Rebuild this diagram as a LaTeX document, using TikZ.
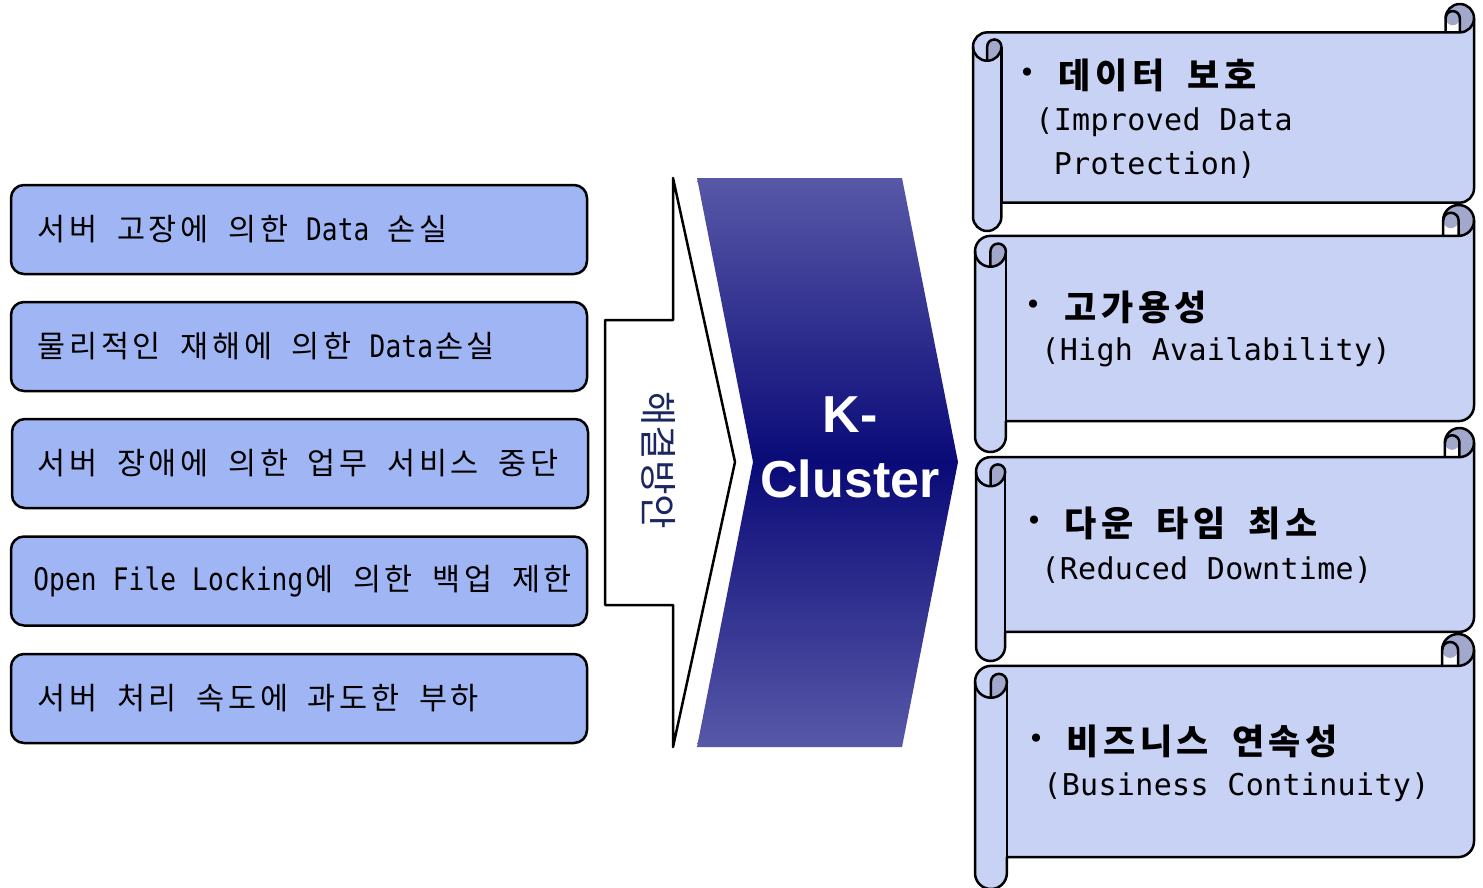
\documentclass[tikz,border=0pt]{standalone}
\usepackage{fontspec}
\setmainfont{Liberation Sans}
\newfontfamily\latA{DejaVu Sans Mono}[FakeStretch=0.844]
\newfontfamily\latB{DejaVu Sans Mono}
\newfontfamily\krC{Noto Sans CJK KR}
\newfontfamily\dvs{DejaVu Sans}
\newcommand\kfA{\krC\fontsize{30.5}{33}\selectfont}
\newcommand\lfA{\latA\fontsize{31}{34}\selectfont}
\newcommand\kfB{\krC\bfseries\fontsize{35}{38}\selectfont}
\newcommand\lfB{\latB\fontsize{30}{34}\selectfont}
\ExplSyntaxOn
\dim_new:N \l__gr_w_dim
\cs_new_protected:Npn \gr_grid:nnnn #1#2#3#4
  {
    \dim_set:Nn \l__gr_w_dim {#1}
    \str_map_inline:nn {#4}
      {
        \str_if_eq:nnTF {##1} {~}
          { \hbox_to_wd:nn { 0.5\l__gr_w_dim } { } }
          {
            \int_compare:nNnTF { `##1 } < { 256 }
              { \hbox_to_wd:nn { 0.5\l__gr_w_dim } { \hfil #3 ##1 \hfil } }
              { \hbox_to_wd:nn { \l__gr_w_dim } { \hfil #2 ##1 \hfil } }
          }
      }
  }
\NewDocumentCommand \grid { m m m m } { \gr_grid:nnnn {#1} {#2} {#3} {#4} }
\ExplSyntaxOff
\definecolor{boxfill}{RGB}{160,181,243}
\definecolor{scrollfill}{RGB}{200,210,245}
\definecolor{scrolldark}{RGB}{162,168,204}
\definecolor{chevlight}{RGB}{88,88,168}
\definecolor{chevdark}{RGB}{10,10,120}
\definecolor{navytext}{RGB}{28,38,96}
\newcommand\hscroll[4]{%
 \pgfmathsetmacro\scC{0.125*(#4-#2)}%
 \pgfmathsetmacro\scA{\scC/2}%
 \pgfmathsetmacro\scB{\scC/4}%
 \fill[scrollfill] (#3,{#2+\scA}) arc[start angle=0,delta angle=90,radius=\scA]
   -- ({#1+\scA},{#2+\scC}) arc[start angle=270,delta angle=-90,radius=\scA]
   -- (#1,{#4-\scA}) arc[start angle=180,delta angle=-180,radius=\scA]
   -- ({#1+\scC},{#4-\scC}) -- ({#3-\scA},{#4-\scC}) arc[start angle=90,delta angle=-90,radius=\scA] -- cycle;
 \fill[scrolldark] ({#1+\scA},{#2+2*\scC}) arc[start angle=90,delta angle=-90,radius=\scA]
   arc[start angle=0,delta angle=-180,radius=\scB] -- cycle;
 \fill[scrolldark] ({#3-\scA},{#2+\scC}) arc[start angle=90,delta angle=-270,radius=\scA]
   arc[start angle=180,delta angle=-180,radius=\scB] -- cycle;
 \draw[scrollline] (#1,{#2+1.5*\scC}) arc[start angle=180,delta angle=90,radius=\scA]
   -- ({#3-\scC},{#2+\scC}) -- ({#3-\scC},{#2+\scA}) arc[start angle=180,delta angle=180,radius=\scA]
   -- (#3,{#4-1.5*\scC}) arc[start angle=0,delta angle=90,radius=\scA]
   -- ({#1+\scC},{#4-\scC}) -- ({#1+\scC},{#4-\scA}) arc[start angle=0,delta angle=180,radius=\scA] -- cycle;
 \draw[scrollline] ({#3-\scC},{#2+\scC}) -- ({#3-\scA},{#2+\scC}) arc[start angle=90,delta angle=-90,radius=\scA];
 \draw[scrollline] ({#3-\scA},{#2+\scC}) -- ({#3-\scA},{#2+\scA}) arc[start angle=0,delta angle=-180,radius=\scB];
 \draw[scrollline] ({#1+\scA},{#2+2*\scC}) -- ({#1+\scA},{#2+1.5*\scC}) arc[start angle=180,delta angle=180,radius=\scB]
   arc[start angle=0,delta angle=180,radius=\scA];
 \draw[scrollline] ({#1+\scC},{#2+1.5*\scC}) -- ({#1+\scC},{#4-\scC});
}
\begin{document}
\begin{tikzpicture}[x=1pt,y=-1pt,line join=round,
  probbox/.style={draw=black,line width=2.5pt,fill=boxfill,rounded corners=13pt,minimum width=576pt,minimum height=89pt,inner sep=0pt},
  probtext/.style={inner sep=0pt,anchor=west},
  scrollline/.style={draw=black,line width=2.5pt},
  stext/.style={inner sep=0pt,anchor=west},
  sbul/.style={font=\fontsize{28}{32}\selectfont\dvs,inner sep=0pt}]
\useasboundingbox (0,0) rectangle (1483,888);
% problem boxes
\node[probbox] (p1) at (299,229.5) {};
\node[probbox] (p2) at (299,346.5) {};
\node[probbox] (p3) at (300,463.5) {};
\node[probbox] (p4) at (299,581) {};
\node[probbox] (p5) at (299,698.5) {};
\node[probtext] (t1) at (35.5,229.5) {\grid{31.8pt}{\kfA}{\lfA}{서버 고장에 의한 Data 손실}};
\node[probtext] (t2) at (35.5,346.5) {\grid{31.8pt}{\kfA}{\lfA}{물리적인 재해에 의한 Data손실}};
\node[probtext] (t3) at (35.5,463.5) {\grid{31.8pt}{\kfA}{\lfA}{서버 장애에 의한 업무 서비스 중단}};
\node[probtext] (t4) at (33,581) {\grid{31.8pt}{\kfA}{\lfA}{Open File Locking에 의한 백업 제한}};
\node[probtext] (t5) at (35.5,698.5) {\grid{31.8pt}{\kfA}{\lfA}{서버 처리 속도에 과도한 부하}};
% white arrow
\draw[line width=2.5pt,fill=white] (605,320) -- (673,320) -- (673,178) -- (735,462) -- (673,747) -- (673,605) -- (605,605) -- cycle;
\node[rotate=-90,font=\fontsize{37.5}{40}\selectfont\krC,text=navytext,inner sep=0pt] (sol) at (659,460) {해결방안};
% chevron
\shade[top color=chevlight,bottom color=chevlight,middle color=chevdark] (697,178) -- (902,178) -- (958,462) -- (902,747) -- (697,747) -- (753,462) -- cycle;
\node[font=\fontsize{52}{65}\selectfont\bfseries,text=white,align=center,inner sep=0pt] (kc) at (850,447.5) {K-\\Cluster};
% scrolls
\hscroll{973}{4}{1474}{231}
\hscroll{975}{205}{1474}{452}
\hscroll{976}{428}{1474}{661}
\hscroll{975}{634}{1474}{889}
\node[sbul] (s1b) at (1027,75) {•};
\node[stext] (s1k) at (1056,75) {\grid{36.8pt}{\kfB}{\lfB}{데이터 보호}};
\node[stext] (s1e) at (1035,122) {\grid{36.8pt}{\kfB}{\lfB}{(Improved Data}};
\node[stext] (s1f) at (1035,165) {\grid{36.8pt}{\kfB}{\lfB}{ Protection)}};
\node[sbul] (s2b) at (1033,307) {•};
\node[stext] (s2k) at (1062,307) {\grid{36.8pt}{\kfB}{\lfB}{고가용성}};
\node[stext] (s2e) at (1041,352) {\grid{36.8pt}{\kfB}{\lfB}{(High Availability)}};
\node[sbul] (s3b) at (1034,523) {•};
\node[stext] (s3k) at (1062,523) {\grid{36.8pt}{\kfB}{\lfB}{다운 타임 최소}};
\node[stext] (s3e) at (1041,570) {\grid{36.8pt}{\kfB}{\lfB}{(Reduced Downtime)}};
\node[sbul] (s4b) at (1036,741) {•};
\node[stext] (s4k) at (1064,741) {\grid{36.8pt}{\kfB}{\lfB}{비즈니스 연속성}};
\node[stext] (s4e) at (1043,787) {\grid{36.8pt}{\kfB}{\lfB}{(Business Continuity)}};
\end{tikzpicture}
\end{document}
